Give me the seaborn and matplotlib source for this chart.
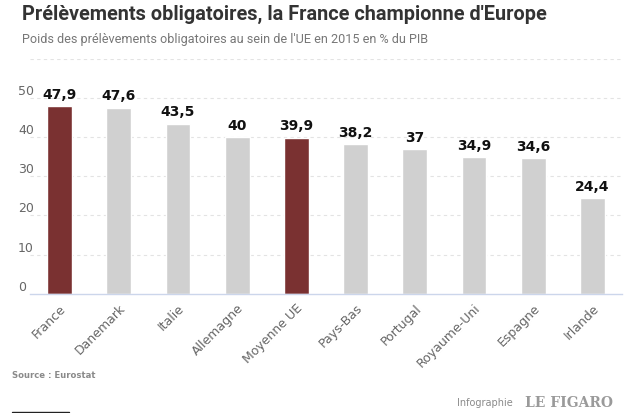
import matplotlib
matplotlib.use("Agg")
import matplotlib.pyplot as plt
import seaborn as sns
import pandas as pd

pays = ['France', 'Danemark', 'Italie', 'Allemagne', 'Moyenne UE', 'Pays-Bas',
        'Portugal', 'Royaume-Uni', 'Espagne', 'Irlande']
valeurs = [47.9, 47.6, 43.5, 40, 39.9, 38.2, 37, 34.9, 34.6, 24.4]
en_avant = ['France', 'Moyenne UE']
yticks = [0, 10, 20, 30, 40, 50]

rouge = '#7a3131'
gris = '#d0d0d0'

df = pd.DataFrame({'pays': pays, 'valeur': valeurs})
palette = {p: (rouge if p in en_avant else gris) for p in pays}

sns.set_style('white')
plt.rcParams['font.family'] = ['DejaVu Sans']

W, H = 640, 413
fig = plt.figure(figsize=(6.4, 4.13), dpi=100)
# axe : de y=293.7 px (0) jusqu'a y=59 px (60)
ax = fig.add_axes([30 / W, 1 - 293.7 / H, 592 / W, 234.7 / H])

sns.barplot(data=df, x='pays', y='valeur', hue='pays', palette=palette,
            width=0.42, legend=False, ax=ax, saturation=1)

ax.set_ylim(0, 60)
ax.set_xlim(-0.5, len(pays) - 0.5)
ax.set_yticks(yticks)
ax.set_yticklabels([str(v) for v in yticks], color='#666666', fontsize=9)
for lab in ax.get_yticklabels():
    lab.set_ha('left')
    lab.set_va('bottom')
ax.tick_params(axis='y', length=0, pad=8.6)

for v in yticks[1:] + [60]:
    ax.axhline(v, color='#e3e3e3', lw=0.8, ls=(0, (3, 3)), zorder=0)

for s in ['top', 'right', 'left']:
    ax.spines[s].set_visible(False)
ax.spines['bottom'].set_color('#ccd6eb')
ax.spines['bottom'].set_linewidth(1)

ax.set_xticks(range(len(pays)))
ax.set_xticklabels(pays, rotation=45, ha='right', rotation_mode='anchor',
                   color='#666666', fontsize=9)
ax.tick_params(axis='x', length=0, pad=6)
ax.set_xticks([i - 0.5 for i in range(len(pays) + 1)], minor=True)
ax.tick_params(axis='x', which='minor', length=7, color='#ccd6eb', width=1)
ax.set_xlabel('')
ax.set_ylabel('')

for cont in ax.containers:
    etiquettes = [('%g' % b.get_height()).replace('.', ',') for b in cont]
    ax.bar_label(cont, labels=etiquettes, padding=3, fontsize=10,
                 fontweight='bold', color='#111111')

fig.text(22 / W, 1 - 14 / H, "Prélèvements obligatoires, la France championne d'Europe",
         family='Roboto', fontweight='bold', fontsize=14.3, color='#333333',
         va='center', ha='left')
fig.text(22 / W, 1 - 39 / H, "Poids des prélèvements obligatoires au sein de l'UE en 2015 en % du PIB",
         family='Roboto', fontsize=9.1, color='#777777', va='center', ha='left')

fig.text(12 / W, 1 - 375 / H, 'Source : Eurostat', fontsize=6.1, fontweight='bold',
         color='#8a8a8a', va='center', ha='left')
fig.text(457 / W, 1 - 403 / H, 'Infographie', fontsize=7, color='#8a8a8a',
         va='center', ha='left')
fig.text(613 / W, 1 - 403 / H, 'LE FIGARO', fontsize=10, fontweight='bold',
         family='DejaVu Serif', color='#9a9a9a', va='center', ha='right')
fig.add_artist(plt.Line2D([12 / W, 69 / W], [1 - 411.5 / H, 1 - 411.5 / H],
                          color='#222222', lw=1))

fig.savefig('out.png', dpi=100, facecolor='white')
